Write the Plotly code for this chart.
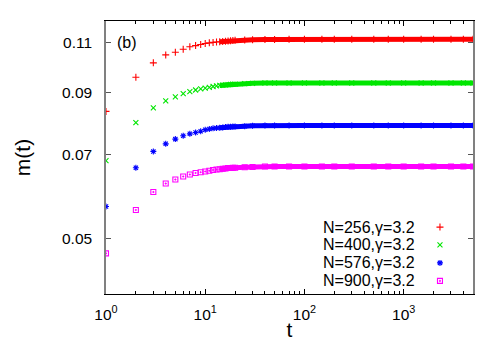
import plotly.graph_objects as go

# ---- data ----
t = [1, 2, 3, 4, 5, 6, 7, 8, 9, 10, 11, 12, 13, 14, 15, 16, 17, 18, 19, 20,
     25, 30, 40, 50, 70, 100, 150, 200, 300, 500, 700, 1000, 1500, 2000, 3000, 4000, 5000]

m_256 = [0.0834, 0.0957, 0.1014, 0.1047, 0.1058, 0.1071, 0.1082, 0.1087, 0.1092, 0.1096,
         0.1099, 0.1101, 0.1103, 0.1104, 0.1105, 0.1106, 0.1107, 0.1108, 0.1109, 0.1110,
         0.1112, 0.1113, 0.1114, 0.1114, 0.1115, 0.1115, 0.1115, 0.1115, 0.1115, 0.1115,
         0.1115, 0.1115, 0.1115, 0.1115, 0.1115, 0.1115, 0.1115]
m_400 = [0.0684, 0.0797, 0.0846, 0.0870, 0.0884, 0.0896, 0.0903, 0.0909, 0.0913, 0.0916,
         0.0919, 0.0922, 0.0924, 0.0926, 0.0927, 0.0928, 0.0929, 0.0930, 0.0931, 0.0931,
         0.0933, 0.0934, 0.0935, 0.0935, 0.0935, 0.0935, 0.0935, 0.0935, 0.0935, 0.0935,
         0.0935, 0.0935, 0.0935, 0.0935, 0.0935, 0.0935, 0.0935]
m_576 = [0.0569, 0.0665, 0.0710, 0.0732, 0.0746, 0.0756, 0.0762, 0.0766, 0.0770, 0.0775,
         0.0777, 0.0779, 0.0780, 0.0781, 0.0782, 0.0783, 0.0784, 0.0784, 0.0785, 0.0785,
         0.0786, 0.0787, 0.0788, 0.0788, 0.0788, 0.0788, 0.0788, 0.0788, 0.0788, 0.0788,
         0.0788, 0.0788, 0.0788, 0.0788, 0.0788, 0.0788, 0.0788]
m_900 = [0.0471, 0.0561, 0.0603, 0.0624, 0.0634, 0.0642, 0.0647, 0.0651, 0.0653, 0.0655,
         0.0657, 0.0659, 0.0660, 0.0661, 0.0662, 0.0663, 0.0664, 0.0664, 0.0665, 0.0665,
         0.0666, 0.0667, 0.0668, 0.0668, 0.0668, 0.0668, 0.0668, 0.0668, 0.0668, 0.0668,
         0.0668, 0.0668, 0.0668, 0.0668, 0.0668, 0.0668, 0.0668]

labels = ["N=256,γ=3.2", "N=400,γ=3.2", "N=576,γ=3.2", "N=900,γ=3.2"]
colors = ["#ff0000", "#00e600", "#0000ff", "#ff00ff"]
symbols = ["cross-thin", "x-thin", "asterisk", "square-open-dot"]
series = [m_256, m_400, m_576, m_900]

x_major = [1, 10, 100, 1000]
x_major_text = ["10<sup>0</sup>", "10<sup>1</sup>", "10<sup>2</sup>", "10<sup>3</sup>"]
x_minor = [k * 10 ** e for e in range(4) for k in range(2, 10) if k * 10 ** e <= 5000]
y_ticks = [0.05, 0.07, 0.09, 0.11]

FONT = "Liberation Sans, Arial, sans-serif"
fig = go.Figure()

dense_from = 13  # index from which the markers merge into a band
for ys, c, s, name in zip(series, colors, symbols, labels):
    # dense band (markers overlapping at every time step)
    fig.add_trace(go.Scatter(x=t[dense_from:], y=ys[dense_from:], mode="lines",
                             line=dict(color=c, width=5), showlegend=False,
                             hoverinfo="skip"))
    fig.add_trace(go.Scatter(x=t, y=ys, mode="markers", name=name, showlegend=False,
                             marker=dict(symbol=s, size=5, color=c,
                                         line=dict(color=c, width=1.1))))

# custom legend (text left, key right) like gnuplot
key_rows = [0.245, 0.180, 0.114, 0.048]
for row, c, s, name in zip(key_rows, colors, symbols, labels):
    fig.add_annotation(x=0.848, y=row, xref="paper", yref="paper", text=name,
                       showarrow=False, xanchor="right", yanchor="middle",
                       font=dict(family=FONT, size=16, color="black"))
    fig.add_trace(go.Scatter(x=[0.91], y=[row], xaxis="x2", yaxis="y2", mode="markers",
                             showlegend=False, hoverinfo="skip",
                             marker=dict(symbol=s, size=5, color=c,
                                         line=dict(color=c, width=1.1))))

fig.add_annotation(x=0.057, y=0.923, xref="paper", yref="paper", text="(b)",
                   showarrow=False, xanchor="center", yanchor="middle",
                   font=dict(family=FONT, size=16, color="black"))

# the page body adds an 8px offset, so the figure is 8px smaller than the window
fig.update_layout(
    width=492, height=342,
    margin=dict(l=98, r=27, t=13, b=56, autoexpand=False),
    paper_bgcolor="white", plot_bgcolor="white",
    font=dict(family=FONT, color="black"),
    showlegend=False,
    xaxis=dict(type="log", range=[0, 3.699], tickmode="array", tickvals=x_major,
               ticktext=x_major_text, ticks="inside", ticklen=5, tickwidth=1,
               tickcolor="black", showline=True, linecolor="black", linewidth=1,
               mirror="allticks", showgrid=False, zeroline=False, automargin=False,
               tickfont=dict(size=15.5), ticklabelstandoff=6,
               minor=dict(tickvals=x_minor, ticks="inside", ticklen=3,
                          tickcolor="black", showgrid=False),
               title=dict(text="t", font=dict(size=21), standoff=0)),
    yaxis=dict(type="log", range=[-1.39794, -0.92082], tickmode="array",
               tickvals=y_ticks, ticktext=["0.05", "0.07", "0.09", "0.11"],
               ticks="inside", ticklen=5, tickwidth=1, tickcolor="#555555",
               showline=True, linecolor="#808080", linewidth=1.5,
               mirror="allticks", showgrid=False, zeroline=False, automargin=False,
               tickfont=dict(size=15.5), ticklabelstandoff=9,
               title=dict(text="m(t)", font=dict(size=21), standoff=26)),
    xaxis2=dict(overlaying="x", range=[0, 1], visible=False),
    yaxis2=dict(overlaying="y", range=[0, 1], visible=False),
)

fig.write_html("out.html")
